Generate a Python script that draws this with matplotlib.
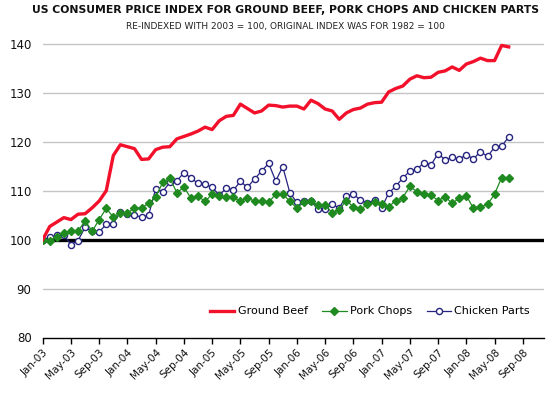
import matplotlib
matplotlib.use("Agg")
import matplotlib.pyplot as plt

months = ["Jan", "Feb", "Mar", "Apr", "May", "Jun", "Jul", "Aug", "Sep", "Oct", "Nov", "Dec"]

ground_beef = [100.0, 102.7, 103.6, 104.5, 104.1, 105.2, 105.3, 106.5, 107.9, 110.0,
               117.2, 119.4, 119.0, 118.6, 116.4, 116.5, 118.4, 118.9, 119.0, 120.6,
               121.1, 121.6, 122.2, 123.0, 122.5, 124.3, 125.2, 125.4, 127.7, 126.8,
               125.9, 126.3, 127.5, 127.4, 127.1, 127.3, 127.3, 126.7, 128.5, 127.8,
               126.7, 126.3, 124.6, 125.9, 126.6, 126.9, 127.7, 128.0, 128.1, 130.2,
               130.9, 131.4, 132.8, 133.5, 133.1, 133.2, 134.2, 134.5, 135.3, 134.6,
               135.9, 136.4, 137.1, 136.6, 136.6, 139.7, 139.4]

pork_chops = [100.0, 99.8, 100.6, 101.4, 101.7, 101.7, 103.9, 101.7, 104.1, 106.4,
              104.6, 105.5, 105.5, 106.4, 106.5, 107.4, 108.7, 111.7, 112.6, 109.6,
              110.7, 108.5, 108.9, 107.8, 109.3, 109.0, 108.7, 108.7, 107.8, 108.6,
              107.8, 107.9, 107.6, 109.3, 109.4, 107.8, 106.5, 107.6, 107.8, 107.1,
              107.1, 105.5, 106.1, 108.0, 106.7, 106.2, 107.2, 107.6, 107.2, 106.7,
              108.0, 108.6, 110.9, 109.8, 109.3, 109.1, 108.0, 108.8, 107.4, 108.5,
              109.0, 106.4, 106.7, 107.2, 109.3, 112.7, 112.7]

chicken_parts = [100.0, 100.5, 100.9, 100.9, 99.0, 99.8, 102.5, 101.7, 101.6, 103.1,
                 103.3, 105.7, 105.3, 105.0, 104.6, 105.0, 110.4, 109.8, 111.7, 112.0,
                 113.7, 112.6, 111.5, 111.3, 110.7, 109.1, 110.5, 110.1, 111.9, 110.7,
                 112.4, 114.0, 115.6, 112.0, 114.9, 109.6, 107.6, 107.8, 107.8, 106.3,
                 106.2, 107.2, 106.5, 108.9, 109.3, 108.1, 107.4, 108.2, 106.5, 109.5,
                 110.9, 112.6, 114.0, 114.4, 115.7, 115.3, 117.6, 116.3, 116.8, 116.4,
                 117.4, 116.5, 118.0, 117.0, 118.9, 119.1, 121.0]

tick_labels = ["Jan-03", "May-03", "Sep-03", "Jan-04", "May-04", "Sep-04", "Jan-05",
               "May-05", "Sep-05", "Jan-06", "May-06", "Sep-06", "Jan-07", "May-07",
               "Sep-07", "Jan-08", "May-08", "Sep-08"]
y_ticks = [80, 90, 100, 110, 120, 130, 140]

title = "US CONSUMER PRICE INDEX FOR GROUND BEEF, PORK CHOPS AND CHICKEN PARTS"
subtitle = "RE-INDEXED WITH 2003 = 100, ORIGINAL INDEX WAS FOR 1982 = 100"

plt.rcParams['font.family'] = ['DejaVu Sans']

fig = plt.figure(figsize=(5.56, 3.95), dpi=100)
W, H = 556, 395
left, right = 42.7, 544
y80, y145 = 337.5, 19.5
ax = fig.add_axes([left / W, 1 - y80 / H, (right - left) / W, (y80 - y145) / H])

x = list(range(len(ground_beef)))

for v in [90, 110, 120, 130, 140]:
    ax.axhline(v, color='#c4c4c4', lw=1.0, zorder=1)
ax.axhline(100, color='black', lw=2.4, zorder=2)

ax.plot(x, chicken_parts, color='#26237f', lw=0.9, marker='o', ms=4.4,
        mfc='white', mec='#26237f', mew=1.0, label='Chicken Parts', zorder=3)
ax.plot(x, pork_chops, color='#1f8a1f', lw=0.9, marker='D', ms=3.6,
        mfc='#1f8a1f', mec='#1f8a1f', label='Pork Chops', zorder=4)
ax.plot(x, ground_beef, color='#f2102a', lw=2.4, label='Ground Beef', zorder=5,
        solid_joinstyle='round')

ax.set_xlim(0, 71)
ax.set_ylim(80, 145)
ax.set_yticks(y_ticks)
ax.set_yticklabels([str(v) for v in y_ticks], fontsize=8.5, color='#111111')
ax.set_xticks(list(range(0, 4 * len(tick_labels), 4)))
ax.set_xticklabels(tick_labels, rotation=45, ha='right', rotation_mode='anchor',
                   fontsize=7.5, color='#111111')
ax.tick_params(axis='y', length=0, pad=8)
ax.tick_params(axis='x', direction='out', length=4, width=1, color='black', pad=3)

for s in ['top', 'right', 'left']:
    ax.spines[s].set_visible(False)
ax.spines['bottom'].set_color('black')
ax.spines['bottom'].set_linewidth(1.0)

handles, labels = ax.get_legend_handles_labels()
order = [2, 1, 0]
ax.legend([handles[i] for i in order], [labels[i] for i in order], ncol=3,
          loc='center', bbox_to_anchor=(370 / W, 1 - 311.5 / H),
          bbox_transform=fig.transFigure, frameon=False, fontsize=8,
          handlelength=2.2, handletextpad=0.3, columnspacing=1.3)

fig.text(286 / W, 1 - 10 / H, title, ha='center', va='center', fontsize=7.8,
         fontweight='bold', color='#111111')
fig.text(285 / W, 1 - 27 / H, subtitle, ha='center', va='center', fontsize=6.5,
         color='#222222')

fig.savefig('out.png', dpi=100)
